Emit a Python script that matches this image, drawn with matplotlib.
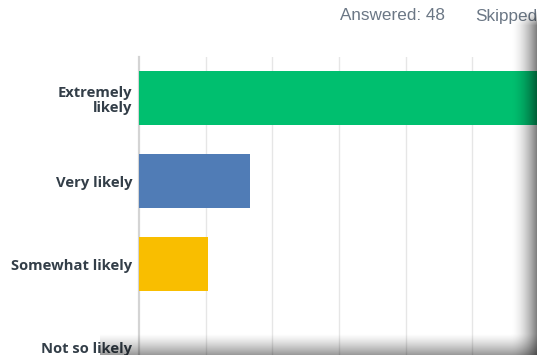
import numpy as np
import matplotlib.pyplot as plt

plt.rcParams['font.family'] = ['Open Sans', 'DejaVu Sans']

categories = ['Extremely\nlikely', 'Very likely', 'Somewhat likely', 'Not so likely']
percent = [72.92, 16.67, 10.42, 0.0]
colors = ['#00BF6F', '#507CB6', '#F9BE00', '#6BC8CD']
answered = 48

W, H = 537, 355
fig = plt.figure(figsize=(W / 100, H / 100), dpi=100)
fig.patch.set_facecolor('white')

# axes: left edge at x=139px, top at y=57px, runs past right and bottom edges
left = 139 / W
top = 1 - 57 / H
bottom = 1 - (57 + 4.094 * 83) / H
ax = fig.add_axes([left, bottom, 1 - left + 1 / W, top - bottom])
ypos = np.arange(len(categories))
ax.barh(ypos, percent, height=0.66, color=colors, zorder=3)
ax.set_ylim(3.6, -0.494)
ax.set_xlim(0, 59.85)
ax.set_xticks(np.arange(10, 60, 10))
ax.grid(axis='x', color='#e6e6e6', linewidth=1, zorder=0)
ax.tick_params(axis='x', length=0, labelbottom=False)
ax.tick_params(axis='y', length=0, pad=5)
ax.set_yticks(ypos)
ax.set_yticklabels(categories, fontsize=10.6, fontweight='bold', color='#333e48',
                   linespacing=1.15)
for s in ['top', 'right', 'bottom']:
    ax.spines[s].set_visible(False)
ax.spines['left'].set_color('#d4d4d4')
ax.spines['left'].set_linewidth(1.6)

fig.text(340 / W, 1 - 16 / H, f'Answered: {answered}', fontsize=12.3, color='#6b7785',
         family=['Liberation Sans', 'DejaVu Sans'], va='center', ha='left')
fig.text(475 / W, 1 - 16 / H, 'Skipped', fontsize=12.3, color='#6b7785',
         family=['Liberation Sans', 'DejaVu Sans'], va='center', ha='left')

# page shadow on right and bottom edges of the screenshot
ov = fig.add_axes([0, 0, 1, 1], zorder=10)
ov.set_axis_off()
rgba = np.zeros((H, W, 4))
xs = np.arange(W)
ys = np.arange(H)
right_a = np.clip((xs - 510) / 26, 0, 1) ** 1.8 * 0.5
bot_a = np.clip((ys - 333) / 22, 0, 1) ** 1.3 * 0.42
ra = np.tile(right_a, (H, 1))
ra[ys < 10, :] = 0
ra[(ys >= 10) & (ys < 25), :] *= ((ys[(ys >= 10) & (ys < 25)] - 10) / 15)[:, None]
ba = np.tile(bot_a[:, None], (1, W))
ba[:, xs < 100] = 0
alpha = 1 - (1 - ra) * (1 - ba)
rgba[..., 3] = alpha
ov.imshow(rgba, extent=[0, W, H, 0], aspect='auto')
ov.set_xlim(0, W)
ov.set_ylim(H, 0)

fig.savefig('out.png', dpi=100)
